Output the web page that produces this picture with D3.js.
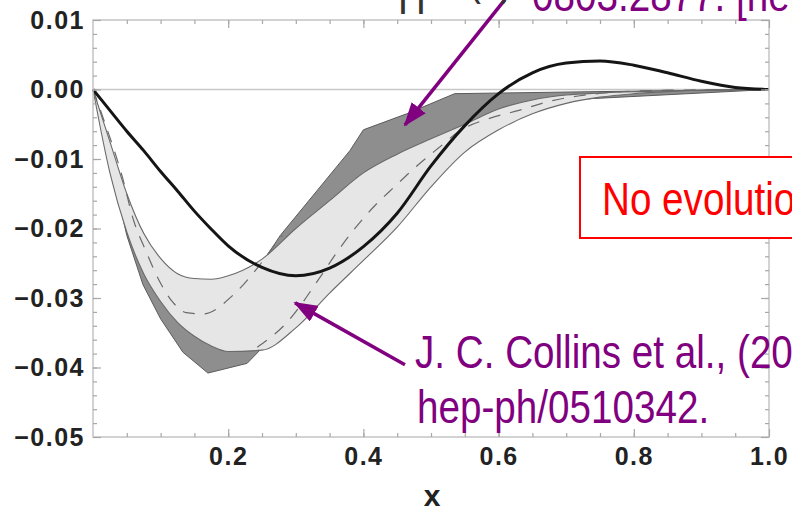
<!DOCTYPE html>
<html>
<head>
<meta charset="utf-8">
<script src="https://cdn.jsdelivr.net/npm/d3@7"></script>
<style>
body { margin: 0; background: #fff; }
.tick text { font-family: "Liberation Sans", Arial, sans-serif; font-weight: bold; font-size: 25px; fill: #222; letter-spacing: 1.5px; }
.note { font-family: "Liberation Sans Narrow", "Arial Narrow", "Liberation Sans", Arial, sans-serif; font-size: 46px; }
</style>
</head>
<body>
<div id="chart"></div>
<script>
// sample points
var xs = [0, 0.025, 0.05, 0.075, 0.1, 0.125, 0.15, 0.175, 0.2, 0.25, 0.3, 0.35, 0.4, 0.45, 0.5, 0.55, 0.6, 0.65, 0.7, 0.75, 0.8, 0.85, 0.9, 0.95, 1];
var thick = [0, -0.0030, -0.0060, -0.0088, -0.0118, -0.0146, -0.0175, -0.0201, -0.0225, -0.0256, -0.0268, -0.0257, -0.0226, -0.0178, -0.0110, -0.0052, -0.0006, 0.0024, 0.0038, 0.0041, 0.0035, 0.0024, 0.0012, 0.0003, 0];
var lightUp = [0, -0.0075, -0.0150, -0.0207, -0.0243, -0.0265, -0.0272, -0.0273, -0.0268, -0.0244, -0.0200, -0.0160, -0.0120, -0.0093, -0.0071, -0.0050, -0.0028, -0.0015, -0.0008, -0.0005, -0.0003, -0.0002, -0.0001, 0, 0];
var lightLow = [0, -0.0120, -0.0205, -0.0265, -0.0305, -0.0335, -0.0355, -0.0369, -0.0377, -0.0375, -0.0343, -0.0293, -0.0246, -0.0198, -0.0140, -0.0090, -0.0058, -0.0035, -0.0020, -0.0011, -0.0006, -0.0003, -0.0001, 0, 0];

var darkUpX = [0, 0.05, 0.1, 0.15, 0.2, 0.25, 0.277, 0.38, 0.40, 0.464, 0.535, 0.75, 1];
var darkUp = [0, -0.0160, -0.0255, -0.0285, -0.0278, -0.0250, -0.0210, -0.0088, -0.0058, -0.0035, -0.0006, -0.0003, 0];
var darkLowX = [0, 0.05, 0.074, 0.1, 0.133, 0.17, 0.228, 0.26, 0.3, 0.4, 0.5, 0.6, 0.7, 1];
var darkLow = [0, -0.0210, -0.0281, -0.0330, -0.0378, -0.0408, -0.0394, -0.0362, -0.0310, -0.0210, -0.0110, -0.0040, -0.0015, 0];

var dashAX = [0, 0.015, 0.044, 0.059, 0.079, 0.099, 0.118, 0.138, 0.163, 0.207, 0.243, 0.27, 0.28];
var dashA = [0, -0.0041, -0.0128, -0.0185, -0.0234, -0.0277, -0.0306, -0.0321, -0.0323, -0.0296, -0.0257, -0.0222, -0.0210];
var dashBX = [0.243, 0.287, 0.336, 0.361, 0.389, 0.416, 0.447, 0.479, 0.51, 0.545, 0.585, 0.63, 0.675, 0.72, 0.77, 0.85, 1];
var dashB = [-0.0371, -0.0335, -0.0270, -0.0234, -0.0198, -0.0168, -0.0139, -0.0110, -0.0085, -0.0058, -0.0042, -0.0030, -0.0017, -0.0009, -0.0004, -0.0001, 0];

var xTickVals = [0.2, 0.4, 0.6, 0.8, 1.0];
var yTickVals = [0.01, 0, -0.01, -0.02, -0.03, -0.04, -0.05];

var cfg = { w: 792, h: 512, left: 93, right: 769, top: 20, bottom: 437 };

var svg = d3.select('#chart').append('svg')
    .attr('width', cfg.w)
    .attr('height', cfg.h)
    .style('display', 'block');

var x = d3.scaleLinear().domain([0, 1]).range([cfg.left, cfg.right]);
var y = d3.scaleLinear().domain([-0.05, 0.01]).range([cfg.bottom, cfg.top]);

function pts(xa, ya) { return xa.map(function (v, i) { return [v, ya[i]]; }); }

// zero line
svg.append('line')
    .attr('x1', x(0)).attr('x2', x(1))
    .attr('y1', y(0)).attr('y2', y(0))
    .attr('stroke', '#c8c8c8').attr('stroke-width', 1.5);

// dark band (0803.2877), mostly hidden behind the light one
var poly = pts(darkUpX, darkUp).concat(pts(darkLowX, darkLow).reverse());
svg.append('path')
    .attr('d', d3.line().x(function (d) { return x(d[0]); }).y(function (d) { return y(d[1]); }).curve(d3.curveLinearClosed)(poly))
    .attr('fill', '#8e8e8e')
    .attr('stroke', '#5a5a5a')
    .attr('stroke-width', 1);

// light band (Collins et al.)
var band = d3.area()
    .x(function (d, i) { return x(xs[i]); })
    .y0(function (d, i) { return y(lightLow[i]); })
    .y1(function (d, i) { return y(lightUp[i]); })
    .curve(d3.curveMonotoneX);
svg.append('path').datum(xs).attr('d', band).attr('fill', '#e6e6e6');

var line = d3.line()
    .x(function (d) { return x(d[0]); })
    .y(function (d) { return y(d[1]); })
    .curve(d3.curveMonotoneX);

[lightUp, lightLow].forEach(function (arr) {
    svg.append('path').attr('d', line(pts(xs, arr)))
        .attr('fill', 'none').attr('stroke', '#6a6a6a').attr('stroke-width', 1.1);
});

[[dashAX, dashA], [dashBX, dashB]].forEach(function (s) {
    svg.append('path').attr('d', line(pts(s[0], s[1])))
        .attr('fill', 'none').attr('stroke', '#6a6a6a').attr('stroke-width', 1.2)
        .attr('stroke-dasharray', '12,10');
});

svg.append('path').attr('d', line(pts(xs, thick)))
    .attr('fill', 'none').attr('stroke', '#151515').attr('stroke-width', 3);

// frame and ticks
svg.append('rect')
    .attr('x', cfg.left).attr('y', cfg.top)
    .attr('width', cfg.right - cfg.left).attr('height', cfg.bottom - cfg.top)
    .attr('fill', 'none').attr('stroke', '#c4c4c4').attr('stroke-width', 1.5);

var xMinor = d3.range(0.05, 1, 0.05);
var yMinor = d3.range(-0.048, 0.0099, 0.002);

function frameAxis(axis, tx, ty) {
    var g = svg.append('g').attr('transform', 'translate(' + tx + ',' + ty + ')').call(axis);
    g.select('.domain').remove();
    g.selectAll('.tick line').attr('stroke', '#a8a8a8').attr('stroke-width', 1.2);
    return g;
}

frameAxis(d3.axisBottom(x).tickValues(xMinor).tickSize(-4).tickFormat(''), 0, cfg.bottom);
frameAxis(d3.axisTop(x).tickValues(xMinor).tickSize(-4).tickFormat(''), 0, cfg.top);
frameAxis(d3.axisBottom(x).tickValues(xTickVals).tickSize(-8).tickPadding(10).tickFormat(d3.format('.1f')), 0, cfg.bottom);
frameAxis(d3.axisTop(x).tickValues(xTickVals).tickSize(-8).tickFormat(''), 0, cfg.top);

frameAxis(d3.axisLeft(y).tickValues(yMinor).tickSize(-4).tickFormat(''), cfg.left, 0);
frameAxis(d3.axisRight(y).tickValues(yMinor).tickSize(-4).tickFormat(''), cfg.right, 0);
frameAxis(d3.axisLeft(y).tickValues(yTickVals).tickSize(-8).tickPadding(8).tickFormat(d3.format('.2f')), cfg.left, 0);
frameAxis(d3.axisRight(y).tickValues(yTickVals).tickSize(-8).tickFormat(''), cfg.right, 0);

svg.append('text')
    .attr('x', 432).attr('y', 506)
    .attr('text-anchor', 'middle')
    .style('font-family', '"Liberation Sans", Arial, sans-serif')
    .style('font-weight', 'bold').style('font-size', '30px').style('fill', '#222')
    .text('x');

// annotations
var purple = '#800080';
var defs = svg.append('defs');
defs.append('marker')
    .attr('id', 'head')
    .attr('markerUnits', 'userSpaceOnUse')
    .attr('viewBox', '0 0 24 18')
    .attr('refX', 22).attr('refY', 9)
    .attr('markerWidth', 24).attr('markerHeight', 18)
    .attr('orient', 'auto')
    .append('path').attr('d', 'M0,0L24,9L0,18Z').attr('fill', purple);

function arrow(x1, y1, x2, y2) {
    svg.append('line')
        .attr('x1', x(x1)).attr('y1', y(y1))
        .attr('x2', x(x2)).attr('y2', y(y2))
        .attr('stroke', purple).attr('stroke-width', 3.5)
        .attr('marker-end', 'url(#head)');
}
arrow(0.609, 0.0129, 0.4615, -0.0051);
arrow(0.4615, -0.0396, 0.299, -0.0307);

// narrow look for the slide text
function note(px, py, color, txt) {
    svg.append('text').attr('class', 'note')
        .attr('transform', 'translate(' + px + ',' + py + ') scale(0.84,1)')
        .attr('fill', color).text(txt);
}

note(398, 14, '#333', 'H');
note(468, -6, '#333', '(x)');
note(532, 11, purple, '0803.2877. [hep-ph]');

svg.append('rect')
    .attr('x', 580).attr('y', 157).attr('width', 260).attr('height', 81)
    .attr('fill', '#fff').attr('stroke', '#ff0000').attr('stroke-width', 2);
note(602, 215, '#ff0000', 'No evolution');

note(415, 368, purple, 'J. C. Collins et al., (2006)');
note(417, 423, purple, 'hep-ph/0510342.');
</script>
</body>
</html>
